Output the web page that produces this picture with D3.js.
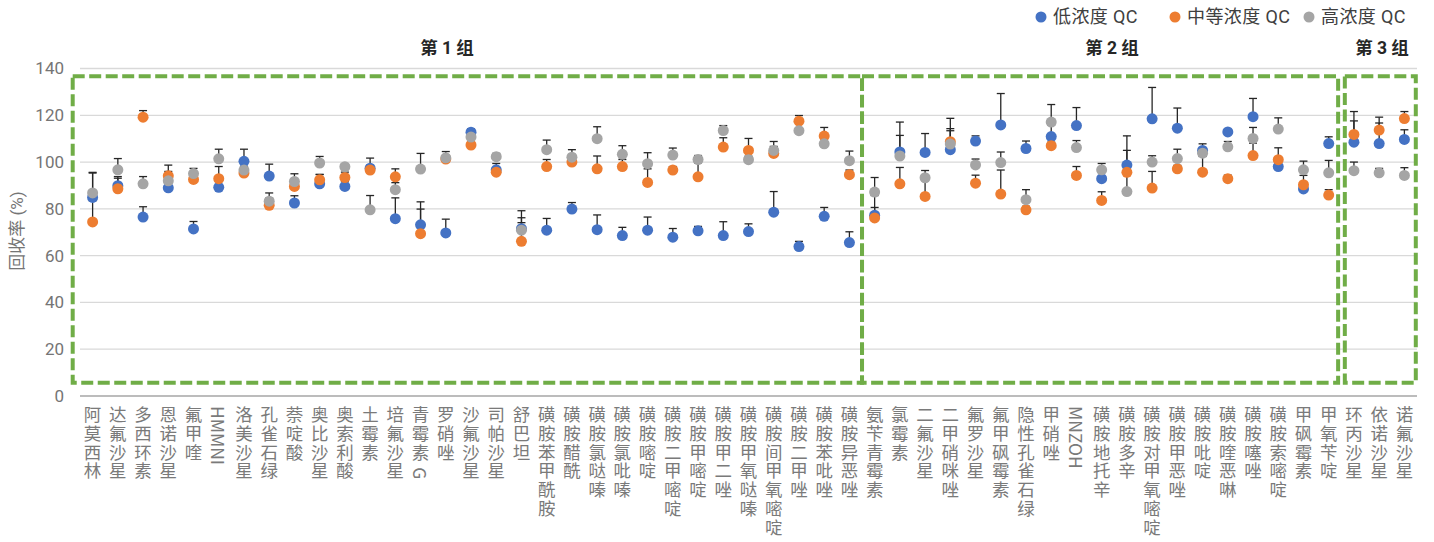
<!DOCTYPE html>
<html>
<head>
<meta charset="utf-8">
<script src="https://cdn.jsdelivr.net/npm/d3@7"></script>
<style>
  html, body { margin: 0; padding: 0; background: #fff; }
  svg { display: block; font-family: Roboto, "Noto Sans CJK SC", "Noto Sans", sans-serif; }
</style>
</head>
<body>
<svg id="chart" width="1434" height="542"></svg>
<script>
// Compounds on the x axis, in plotting order
const categories = [
  "阿莫西林","达氟沙星","多西环素","恩诺沙星","氟甲喹","HMMNI","洛美沙星","孔雀石绿","萘啶酸","奥比沙星",
  "奥索利酸","土霉素","培氟沙星","青霉素 G","罗硝唑","沙氟沙星","司帕沙星","舒巴坦","磺胺苯甲酰胺","磺胺醋酰",
  "磺胺氯哒嗪","磺胺氯吡嗪","磺胺嘧啶","磺胺二甲嘧啶","磺胺甲嘧啶","磺胺甲二唑","磺胺甲氧哒嗪","磺胺间甲氧嘧啶","磺胺二甲唑","磺胺苯吡唑",
  "磺胺异恶唑",
  "氨苄青霉素","氯霉素","二氟沙星","二甲硝咪唑","氟罗沙星","氟甲砜霉素","隐性孔雀石绿","甲硝唑","MNZOH","磺胺地托辛",
  "磺胺多辛","磺胺对甲氧嘧啶","磺胺甲恶唑","磺胺吡啶","磺胺喹恶啉","磺胺噻唑","磺胺索嘧啶","甲砜霉素","甲氧苄啶",
  "环丙沙星","依诺沙星","诺氟沙星"
];

// Mean recovery (%) for each QC level
const lowQC = [
  84.9, 89.9, 76.5, 89.0, 71.4, 89.2, 100.3, 94.0, 82.5, 90.7,
  89.6, 97.4, 75.8, 73.2, 69.7, 112.8, 96.7, 71.5, 70.9, 79.9,
  71.1, 68.6, 70.9, 67.9, 70.6, 68.6, 70.3, 78.6, 63.9, 76.8,
  65.6,
  77.3, 104.3, 104.1, 105.3, 109.0, 115.9, 105.8, 110.9, 115.6, 92.9,
  98.7, 118.5, 114.5, 105.0, 112.9, 119.4, 98.1, 88.5, 107.9,
  108.5, 107.9, 109.7
];
const midQC = [
  74.4, 88.6, 119.2, 94.1, 92.6, 92.9, 95.3, 81.5, 89.6, 92.4,
  93.4, 96.6, 93.7, 69.4, 101.3, 107.3, 95.7, 66.1, 98.1, 100.0,
  97.1, 98.1, 91.3, 96.6, 93.7, 106.4, 105.0, 103.7, 117.5, 111.1,
  94.6,
  76.1, 90.7, 85.3, 108.7, 91.0, 86.3, 79.6, 107.0, 94.3, 83.6,
  95.6, 88.9, 97.1, 95.7, 92.9, 102.8, 101.0, 90.3, 85.9,
  111.8, 113.7, 118.6
];
const highQC = [
  86.8, 96.7, 90.7, 92.0, 95.1, 101.4, 96.6, 83.3, 91.7, 99.6,
  98.0, 79.6, 88.2, 97.0, 101.8, 110.7, 102.3, 70.9, 105.3, 102.1,
  110.0, 103.3, 99.3, 103.0, 101.1, 113.5, 101.0, 105.0, 113.4, 107.8,
  100.6,
  87.2, 102.6, 93.3, 107.7, 98.8, 99.8, 83.9, 117.1, 106.2, 96.7,
  87.4, 100.0, 101.5, 103.8, 106.5, 110.1, 114.1, 96.7, 95.4,
  96.3, 95.4, 94.3
];

// Standard deviation (%) shown as upper error bars
const lowErr = [
  10.7, 3.9, 4.4, 2.0, 3.2, 2.5, 5.2, 5.1, 3.1, 4.0,
  2.0, 4.3, 8.9, 9.8, 5.9, 1.4, 2.7, 7.7, 5.0, 2.8,
  6.3, 3.5, 5.6, 3.7, 1.9, 5.9, 3.3, 8.8, 2.2, 3.8,
  4.6,
  3.3, 12.8, 8.1, 9.0, 2.2, 13.4, 3.2, 5.0, 7.7, 3.0,
  12.5, 13.4, 8.6, 2.8, 1.0, 7.8, 2.0, 2.0, 2.9,
  9.1, 8.8, 4.1
];
const midErr = [
  9.1, 4.5, 2.8, 4.6, 1.5, 5.2, 1.5, 3.1, 3.0, 2.3,
  2.3, 2.0, 3.4, 10.5, 1.5, 1.0, 1.5, 8.0, 3.0, 2.5,
  5.5, 3.0, 5.8, 1.5, 5.9, 4.0, 5.1, 3.0, 2.4, 3.7,
  2.0,
  9.6, 7.0, 8.0, 10.0, 3.4, 10.3, 1.5, 1.5, 3.8, 3.7,
  9.4, 7.1, 1.5, 6.7, 1.5, 5.3, 5.1, 4.0, 2.3,
  9.8, 5.5, 3.0
];
const highErr = [
  8.5, 4.8, 3.1, 4.0, 2.2, 4.1, 1.5, 3.5, 3.3, 2.8,
  1.3, 6.1, 3.0, 6.7, 2.7, 1.5, 1.4, 5.3, 4.1, 3.2,
  5.1, 3.7, 4.7, 3.0, 1.7, 2.1, 1.5, 3.8, 1.0, 1.0,
  4.1,
  6.2, 8.8, 3.1, 5.7, 2.5, 4.5, 4.3, 7.5, 3.0, 2.7,
  8.0, 2.7, 4.0, 1.5, 2.3, 4.7, 4.8, 3.7, 5.3,
  3.7, 1.9, 3.3
];

const seriesNames = ["低浓度 QC", "中等浓度 QC", "高浓度 QC"];
const seriesColors = ["#4472C4", "#ED7D31", "#A5A5A5"];
const yTicks = [0, 20, 40, 60, 80, 100, 120, 140];

// Compound groups outlined with dashed boxes
const groupLabels = ["第 1 组", "第 2 组", "第 3 组"];
const groupFirst = ["阿莫西林", "氨苄青霉素", "环丙沙星"];
const groupLast = ["磺胺异恶唑", "甲氧苄啶", "诺氟沙星"];

const series = [
  { name: seriesNames[0], color: seriesColors[0], values: lowQC, errs: lowErr },
  { name: seriesNames[1], color: seriesColors[1], values: midQC, errs: midErr },
  { name: seriesNames[2], color: seriesColors[2], values: highQC, errs: highErr }
];

const svg = d3.select("#chart");

const plotLeft = 80, plotRight = 1417, plotTop = 68.5, plotBottom = 396;

const x = d3.scaleBand().domain(categories).range([plotLeft, plotRight]).padding(0);
const y = d3.scaleLinear().domain([0, 140]).range([plotBottom, plotTop]);
const cx = c => x(c) + x.bandwidth() / 2;

// Horizontal gridlines
svg.append("g")
  .selectAll("line")
  .data(yTicks.filter(t => t > 0))
  .join("line")
  .attr("x1", plotLeft).attr("x2", plotRight)
  .attr("y1", d => y(d)).attr("y2", d => y(d))
  .attr("stroke", "#d9d9d9").attr("stroke-width", 1.3);

// Y axis labels
const yAxis = d3.axisLeft(y).tickValues(yTicks).tickSize(0).tickPadding(16);
const yG = svg.append("g").attr("transform", `translate(${plotLeft},0)`).call(yAxis);
yG.select(".domain").remove();
yG.selectAll("text")
  .attr("font-size", 17)
  .attr("fill", "#757575")
  .attr("font-family", "Roboto, 'Noto Sans CJK SC', sans-serif");

// Y axis title
svg.append("text")
  .attr("transform", `translate(23,231) rotate(-90)`)
  .attr("text-anchor", "middle")
  .attr("font-size", 17)
  .attr("fill", "#757575")
  .text("回收率 (%)");

// X axis baseline
svg.append("line")
  .attr("x1", plotLeft).attr("x2", plotRight)
  .attr("y1", y(0)).attr("y2", y(0))
  .attr("stroke", "#a6a6a6").attr("stroke-width", 1.5);

// Category labels, written vertically; Latin-only names keep tight spacing
const latinOnly = s => /^[A-Za-z0-9 ]+$/.test(s);
svg.append("g")
  .selectAll("text")
  .data(categories)
  .join("text")
  .attr("x", d => cx(d))
  .attr("y", 406)
  .attr("font-size", 17.5)
  .attr("fill", "#7a7a7a")
  .style("writing-mode", "vertical-rl")
  .style("text-orientation", "mixed")
  .style("letter-spacing", d => latinOnly(d) ? "0px" : "1.2px")
  .attr("font-family", "'Noto Sans CJK SC', Roboto, sans-serif")
  .text(d => d);

// Dashed group boxes
const boxTop = 76.3, boxBottom = 382.7;
const groups = groupLabels.map((label, i) => ({
  label,
  x0: x(groupFirst[i]),
  x1: x(groupLast[i]) + x.bandwidth()
}));
const boxInset = [[-7.3, 0], [0, -3.2], [3.5, -1.2]];
svg.append("g")
  .selectAll("rect")
  .data(groups)
  .join("rect")
  .attr("x", (d, i) => d.x0 + boxInset[i][0])
  .attr("y", boxTop)
  .attr("width", (d, i) => (d.x1 + boxInset[i][1]) - (d.x0 + boxInset[i][0]))
  .attr("height", boxBottom - boxTop)
  .attr("fill", "none")
  .attr("stroke", "#70AD47")
  .attr("stroke-width", 4)
  .attr("stroke-dasharray", "12 4.5");

// Group titles
const groupLabelX = [447, 1112, 1382];
svg.append("g")
  .selectAll("text")
  .data(groups)
  .join("text")
  .attr("x", (d, i) => groupLabelX[i])
  .attr("y", 54)
  .attr("text-anchor", "middle")
  .attr("font-size", 17.5)
  .attr("font-weight", "bold")
  .attr("fill", "#262626")
  .text(d => d.label);

// Upper error bars
const capHalf = 4;
const errG = svg.append("g");
series.forEach(s => {
  categories.forEach((c, i) => {
    const xc = cx(c);
    const y0 = y(s.values[i]);
    const y1 = y(s.values[i] + s.errs[i]);
    errG.append("line")
      .attr("x1", xc).attr("x2", xc).attr("y1", y0).attr("y2", y1)
      .attr("stroke", "#262626").attr("stroke-width", 1.3);
    errG.append("line")
      .attr("x1", xc - capHalf).attr("x2", xc + capHalf).attr("y1", y1).attr("y2", y1)
      .attr("stroke", "#262626").attr("stroke-width", 1.3);
  });
});

// Points
series.forEach(s => {
  svg.append("g")
    .selectAll("circle")
    .data(categories)
    .join("circle")
    .attr("cx", d => cx(d))
    .attr("cy", (d, i) => y(s.values[i]))
    .attr("r", 5.5)
    .attr("fill", s.color);
});

// Legend
const legendX = [1041, 1175, 1309];
const legend = svg.append("g")
  .selectAll("g")
  .data(series)
  .join("g")
  .attr("transform", (d, i) => `translate(${legendX[i]},17)`);
legend.append("circle").attr("r", 5.5).attr("fill", d => d.color);
legend.append("text")
  .attr("x", 12)
  .attr("y", 0)
  .attr("dy", "0.36em")
  .attr("font-size", 18)
  .attr("letter-spacing", 0.4)
  .attr("fill", "#404040")
  .text(d => d.name);
</script>
</body>
</html>
